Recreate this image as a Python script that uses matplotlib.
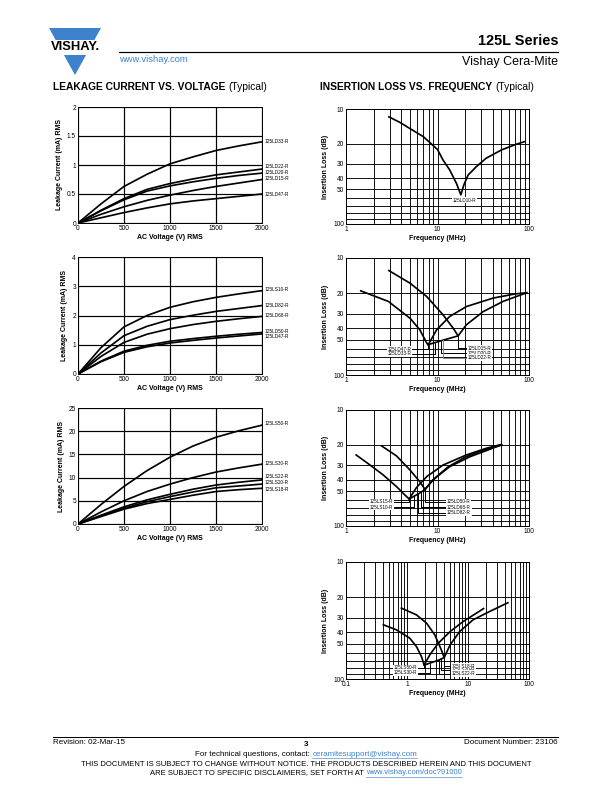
import numpy as np
import matplotlib.pyplot as plt
from matplotlib.patches import Polygon, Rectangle
from matplotlib.lines import Line2D
from matplotlib.ticker import FixedLocator, FixedFormatter, NullFormatter

plt.rcParams['font.family'] = ['Liberation Sans', 'DejaVu Sans']

# ---- leakage current vs voltage (mA RMS) ----
volts = [0, 250, 500, 750, 1000, 1250, 1500, 1750, 2000]

leak1_names = ['125LD33-R', '125LD22-R', '125LD20-R', '125LD15-R', '125LD47-R']
leak1_vals = [
    [0, 0.33, 0.63, 0.84, 1.02, 1.14, 1.25, 1.33, 1.40],
    [0, 0.22, 0.42, 0.58, 0.68, 0.76, 0.83, 0.88, 0.93],
    [0, 0.21, 0.40, 0.55, 0.64, 0.71, 0.77, 0.82, 0.86],
    [0, 0.15, 0.28, 0.39, 0.48, 0.56, 0.63, 0.69, 0.75],
    [0, 0.09, 0.18, 0.26, 0.33, 0.38, 0.42, 0.46, 0.50],
]
leak1_label_y = [1.40, 0.97, 0.87, 0.77, 0.50]

leak2_names = ['125LS10-R', '125LD82-R', '125LD68-R', '125LD50-R', '125LD47-R']
leak2_vals = [
    [0, 0.90, 1.61, 2.00, 2.28, 2.47, 2.62, 2.74, 2.85],
    [0, 0.72, 1.31, 1.63, 1.86, 2.01, 2.14, 2.24, 2.34],
    [0, 0.60, 1.08, 1.36, 1.55, 1.69, 1.80, 1.89, 1.97],
    [0, 0.44, 0.78, 0.98, 1.12, 1.21, 1.29, 1.36, 1.42],
    [0, 0.42, 0.74, 0.93, 1.06, 1.15, 1.23, 1.30, 1.37],
]
leak2_label_y = [2.88, 2.34, 2.00, 1.46, 1.28]

leak3_names = ['125LS50-R', '125LS30-R', '125LS22-R', '125LS20-R', '125LS18-R']
leak3_vals = [
    [0, 4.2, 8.1, 11.5, 14.4, 16.8, 18.7, 20.1, 21.3],
    [0, 2.6, 5.0, 7.0, 8.6, 10.0, 11.2, 12.1, 12.9],
    [0, 1.9, 3.7, 5.2, 6.4, 7.5, 8.4, 9.0, 9.5],
    [0, 1.75, 3.4, 4.8, 5.9, 6.9, 7.8, 8.2, 8.6],
    [0, 1.6, 3.2, 4.4, 5.3, 6.2, 7.0, 7.4, 7.7],
]
leak3_label_y = [21.6, 13.1, 10.2, 8.9, 7.5]

# ---- insertion loss vs frequency (MHz, dB) ----
il1 = {
    '125LD10-R': ([2.94, 3.9, 5, 7, 10, 11.5, 13.6, 16.1, 18, 19.4, 21.6, 26.6, 34, 50, 72, 90],
                  [11.7, 13.1, 14.8, 17.4, 22.5, 27.8, 33.9, 44.3, 55.8, 45.8, 37.5, 31.7, 26.8, 22.7, 20.3, 19.2]),
}
il2 = {
    '125LD47-R': ([1.45, 2.9, 5, 6.4, 7.6, 7.9, 9.8, 13.6, 20.7, 40.6, 70, 95],
                  [19.1, 23.5, 32.7, 41, 53, 55.4, 41, 31.6, 26, 22, 20.3, 19.8]),
    '125LD15-R': ([2.94, 5, 7.6, 11.5, 14.8, 16.8, 20.7, 31.6, 52, 93],
                  [12.8, 16.4, 21.3, 30.6, 39.7, 46.3, 37.2, 28.7, 23.5, 19.9]),
    '125LD33-R': ([7.9, 11.5, 16.8],
                  [55.0, 50.4, 46.3]),
}
il3 = {
    '125LS15-R': ([1.29, 1.83, 2.55, 3.57, 4.4, 4.9, 5.9, 7.6, 11.5, 20.7, 34, 50],
                  [24.4, 29.8, 36.3, 45.8, 54, 58.5, 46.5, 37.6, 29.8, 24.4, 21.4, 19.8]),
    '125LS10-R': ([4.9, 6.4, 7.3, 8.5, 10, 13, 20, 30, 50],
                  [58.5, 52, 48.5, 42, 37, 31, 25.5, 22.5, 20]),
    '125LD50-R': ([2.45, 3.57, 5, 6.4, 7.3, 8.9, 13.6, 22.6, 50],
                  [20.4, 24.9, 32.9, 41.5, 48.3, 40, 30.8, 25.3, 20]),
}
il4 = {
    '125LS50-R': ([0.41, 0.67, 1.11, 1.43, 1.73, 1.91, 2.36, 3.25, 5.1, 8.3, 13.7, 18],
                  [34.4, 38, 44.8, 52.8, 64.5, 76, 62.3, 49.5, 39.3, 32.3, 27.4, 25]),
    '125LS30-R': ([0.81, 1.43, 2.09, 2.86, 3.66, 4.07, 5.1, 7.3, 12.1, 22.6, 45],
                  [24.8, 28.3, 33.3, 42, 56.5, 65.6, 51, 39.3, 31.2, 26.5, 22.3]),
    '125LS18-R': ([1.91, 2.6, 3.3, 4.07],
                  [76, 72, 69, 65.6]),
}

W, H = 612, 792
fig = plt.figure(figsize=(W / 72, H / 72), dpi=72)
BLUE = '#3d82cc'
TICK = 6.5
AXLAB = 7
TAG = 4.6


def rect(x0, y0, x1, y1):
    # page pixels (top-left origin) -> figure fraction
    return [x0 / W, 1 - y1 / H, (x1 - x0) / W, (y1 - y0) / H]


def fx(x):
    return x / W


def fy(y):
    return 1 - y / H


def leak_chart(r, ymax, ystep, names, vals, label_y):
    ax = fig.add_axes(r)
    for v in vals:
        ax.plot(volts, v, color='k', lw=1.7)
    ax.set_xlim(0, 2000)
    ax.set_ylim(0, ymax)
    ax.set_xticks([0, 500, 1000, 1500, 2000])
    yt = np.arange(0, ymax + ystep / 2, ystep)
    ax.set_yticks(yt)
    ax.set_yticklabels(['%g' % t for t in yt])
    ax.grid(True, color='k', lw=1.2)
    for s in ax.spines.values():
        s.set_linewidth(1.0)
    ax.tick_params(length=0, labelsize=TICK, pad=2)
    ax.set_xlabel('AC Voltage (V) RMS', fontsize=AXLAB, fontweight='bold', labelpad=2)
    ax.set_ylabel('Leakage Current (mA) RMS', fontsize=AXLAB, fontweight='bold', labelpad=4)
    tr = ax.get_yaxis_transform()
    for n, y in zip(names, label_y):
        ax.text(1.012, y, n, transform=tr, fontsize=4.8, va='center', ha='left')
    return ax


leak_chart(rect(78, 107, 262, 223), 2, 0.5, leak1_names, leak1_vals, leak1_label_y)
leak_chart(rect(78, 257, 262, 374), 4, 1, leak2_names, leak2_vals, leak2_label_y)
leak_chart(rect(78, 408, 262, 524), 25, 5, leak3_names, leak3_vals, leak3_label_y)


def il_chart(r, xmin, series):
    ax = fig.add_axes(r)
    for n, (f, l) in series.items():
        ax.plot(f, l, color='k', lw=1.7)
    ax.set_xscale('log')
    ax.set_yscale('log')
    ax.set_xlim(xmin, 100)
    ax.set_ylim(100, 10)
    ax.yaxis.set_major_locator(FixedLocator([10, 20, 30, 40, 50, 100]))
    ax.yaxis.set_major_formatter(FixedFormatter(['10', '20', '30', '40', '50', '100']))
    ax.yaxis.set_minor_locator(FixedLocator([60, 70, 80, 90]))
    ax.yaxis.set_minor_formatter(NullFormatter())
    decades = [d for d in [0.1, 1, 10, 100] if d >= xmin]
    ax.xaxis.set_major_locator(FixedLocator(decades))
    ax.xaxis.set_major_formatter(FixedFormatter(['%g' % d for d in decades]))
    minors = [d * k for d in decades[:-1] for k in range(2, 10)]
    ax.xaxis.set_minor_locator(FixedLocator(minors))
    ax.xaxis.set_minor_formatter(NullFormatter())
    ax.grid(True, which='both', color='k', lw=0.9)
    for s in ax.spines.values():
        s.set_linewidth(1.0)
    ax.tick_params(which='both', length=0, labelsize=TICK, pad=2)
    ax.set_xlabel('Frequency (MHz)', fontsize=AXLAB, fontweight='bold', labelpad=2)
    ax.set_ylabel('Insertion Loss (dB)', fontsize=AXLAB, fontweight='bold', labelpad=4)
    return ax


def tag(ax, text, xy, xytext, ha, color='k'):
    ax.annotate(text, xy=xy, xytext=xytext, fontsize=TAG, ha=ha, va='center',
                bbox=dict(boxstyle='square,pad=0.15', fc='white', ec='none'),
                arrowprops=dict(arrowstyle='-', color=color, lw=1.0, shrinkA=0, shrinkB=0,
                                connectionstyle='angle,angleA=0,angleB=90,rad=0'))


ax = il_chart(rect(346, 109, 529, 224), 1, il1)
ax.text(19.9, 62, '125LD10-R', fontsize=TAG, ha='center', va='center',
        bbox=dict(boxstyle='square,pad=0.15', fc='white', ec='none'))

ax = il_chart(rect(346, 258, 529, 375), 1, il2)
tag(ax, '125LD47-R', (7.9, 55.4), (5.2, 60), 'right')
tag(ax, '125LD33-R', (9.3, 53.5), (5.2, 66), 'right')
tag(ax, '125LD15-R', (16.8, 46.3), (21.5, 59), 'left')
tag(ax, '125LD20-R', (10.8, 51.5), (21.5, 65), 'left')
tag(ax, '125LD22-R', (11.6, 50.5), (21.5, 71), 'left', color='#888888')

ax = il_chart(rect(346, 410, 529, 526), 1, il3)
tag(ax, '125LS15-R', (4.9, 58.5), (3.3, 62), 'right')
tag(ax, '125LS10-R', (5.6, 55), (3.3, 68.6), 'right')
tag(ax, '125LD50-R', (7.3, 48.3), (12.7, 62), 'left')
tag(ax, '125LD68-R', (6.6, 50.5), (12.7, 68.6), 'left')
tag(ax, '125LD82-R', (6.1, 52.5), (12.7, 77), 'left')

ax = il_chart(rect(346, 562, 529, 679), 0.1, il4)
tag(ax, '125LS50-R', (1.91, 76), (1.45, 80.4), 'right')
tag(ax, '125LS30-R', (2.4, 74), (1.45, 88.6), 'right')
tag(ax, '125LS18-R', (4.07, 65.6), (5.4, 77.5), 'left')
tag(ax, '125LS20-R', (3.6, 67.5), (5.4, 83.6), 'left')
tag(ax, '125LS22-R', (3.3, 69), (5.4, 90), 'left')

# ---- header ----
fig.patches.append(Polygon([[fx(49), fy(28)], [fx(101), fy(28)], [fx(75), fy(75)]],
                           closed=True, transform=fig.transFigure, fc=BLUE, ec='none'))
fig.patches.append(Rectangle((fx(45), fy(55)), fx(60), 15 / H, transform=fig.transFigure,
                             fc='white', ec='none'))
fig.text(fx(75), fy(47.5), 'VISHAY.', fontsize=13, fontweight='bold', ha='center', va='center')
fig.add_artist(Line2D([fx(119), fx(558)], [fy(52), fy(52)], color='k', lw=1.2))
fig.text(fx(119), fy(59), 'www.vishay.com', fontsize=9.4, color=BLUE, ha='left', va='center')
fig.text(fx(558), fy(41), '125L Series', fontsize=14.5, fontweight='bold', ha='right', va='center')
fig.text(fx(558), fy(62), 'Vishay Cera-Mite', fontsize=12.5, ha='right', va='center')

renderer = fig.canvas.get_renderer()


def run_text(parts, x, y, align='left', size=7):
    # parts: (text, bold, color, underline)
    arts = []
    for t, b, c, u in parts:
        a = fig.text(0, fy(y), t, fontsize=size, fontweight='bold' if b else 'normal',
                     color=c, ha='left', va='center')
        arts.append((a, u))
    widths = [a.get_window_extent(renderer).width for a, u in arts]
    total = sum(widths)
    if align == 'center':
        x0 = x - total / 2
    elif align == 'right':
        x0 = x - total
    else:
        x0 = x
    for (a, u), w in zip(arts, widths):
        a.set_x(fx(x0))
        if u:
            fig.add_artist(Line2D([fx(x0), fx(x0 + w)], [fy(y + 4.2), fy(y + 4.2)],
                                  color=a.get_color(), lw=0.6))
        x0 += w


run_text([('LEAKAGE CURRENT VS. VOLTAGE ', True, 'k', False),
          ('(Typical)', False, 'k', False)], 53, 87, size=10.2)
run_text([('INSERTION LOSS VS. FREQUENCY ', True, 'k', False),
          ('(Typical)', False, 'k', False)], 320, 87, size=10.2)

# ---- footer ----
fig.add_artist(Line2D([fx(53), fx(558)], [fy(737), fy(737)], color='k', lw=1.0))
fig.text(fx(53), fy(743), 'Revision: 02-Mar-15', fontsize=8, ha='left', va='center')
fig.text(fx(306), fy(744), '3', fontsize=8, fontweight='bold', ha='center', va='center')
fig.text(fx(558), fy(743), 'Document Number: 23106', fontsize=8, ha='right', va='center')
run_text([('For technical questions, contact: ', False, 'k', False),
          ('ceramitesupport@vishay.com', False, BLUE, True)], 306, 754, 'center', 8)
run_text([('THIS DOCUMENT IS SUBJECT TO CHANGE WITHOUT NOTICE. THE PRODUCTS DESCRIBED HEREIN AND THIS DOCUMENT',
           False, 'k', False)], 306, 764, 'center', 7.6)
run_text([('ARE SUBJECT TO SPECIFIC DISCLAIMERS, SET FORTH AT ', False, 'k', False),
          ('www.vishay.com/doc?91000', False, BLUE, True)], 306, 773, 'center', 7.6)

fig.savefig('out.png', dpi=72)
